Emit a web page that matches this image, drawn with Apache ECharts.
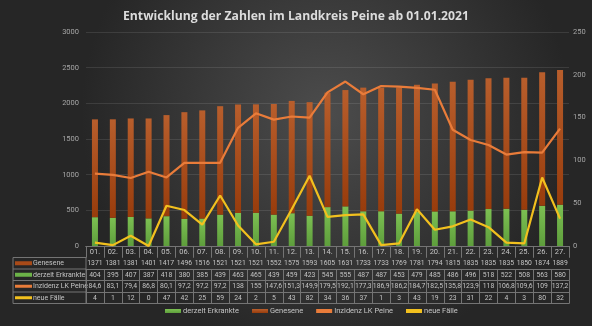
<!DOCTYPE html>
<html><head><meta charset="utf-8">
<script src="https://cdn.jsdelivr.net/npm/echarts@6/dist/echarts.min.js"></script>
<style>html,body{margin:0;padding:0;}#c{width:592px;height:326px;}</style>
</head><body><div id="c"></div>
<script>
const categories = ['01.','02.','03.','04.','05.','06.','07.','08.','09.','10.','11.','12.','13.','14.','15.','16.','17.','18.','19.','20.','21.','22.','23.','24.','25.','26.','27.'];
const genesene = [1371,1381,1381,1401,1417,1496,1516,1521,1521,1521,1552,1575,1593,1605,1631,1733,1733,1769,1781,1794,1815,1835,1835,1835,1850,1874,1889];
const erkrankte = [404,395,407,387,418,380,385,439,463,465,439,459,423,545,555,487,487,453,479,485,486,496,518,522,508,563,580];
const inzidenz = [84.6,83.1,79.4,86.8,80.1,97.2,97.2,97.2,138,155,147.6,151.3,149.9,179.5,192.1,177.3,186.9,186.2,184.7,182.5,135.8,123.9,118,106.8,109.6,109,137.2];
const neueFaelle = [4,1,12,0,47,42,25,59,24,2,5,43,82,34,36,37,1,3,43,19,23,31,22,4,3,80,32];
const leftTicks = [0,500,1000,1500,2000,2500,3000];
const rightTicks = [0,50,100,150,200,250];

const names = ['Genesene','derzeit Erkrankte','Inzidenz LK Peine','neue Fälle'];
const fmt = v => String(v).replace('.', ',');
const rows = [genesene, erkrankte, inzidenz, neueFaelle];

const txtColor = '#c4c4c4';
const lineCol = '#747474';
const font = 'Open Sans, Liberation Sans, sans-serif';
const nfont = 'Roboto, "Liberation Sans", sans-serif';
const cGreen = {type:'linear',x:0,y:0,x2:0,y2:1,colorStops:[{offset:0,color:'#7cc052'},{offset:1,color:'#5e9e3c'}]};
const cBrown = {type:'linear',x:0,y:0,x2:0,y2:1,colorStops:[{offset:0,color:'#b85e2c'},{offset:1,color:'#983c0c'}]};
const cOrange = '#e97c3a';
const cYellow = '#f2c01e';

const gridTop = 32, gridBottomY = 246, rowH = 11.5;
const xAxes = [{
  type:'category', data:categories, gridIndex:0, position:'bottom', offset:0,
  axisLine:{show:true,lineStyle:{color:lineCol,width:1}},
  axisTick:{show:true,alignWithLabel:false,interval:0,length:rowH,lineStyle:{color:lineCol}},
  axisLabel:{interval:0,color:txtColor,fontSize:7.5,fontFamily:nfont,margin:2.5},
  splitLine:{show:false}
}];
rows.forEach((arr,i)=>{
  xAxes.push({
    type:'category', data:categories, gridIndex:0, position:'bottom', offset:rowH*(i+1),
    axisLine:{show:true,lineStyle:{color:lineCol,width:1}},
    axisTick:{show:true,alignWithLabel:false,interval:0,length:rowH,lineStyle:{color:lineCol}},
    axisLabel:{interval:0,color:txtColor,fontSize:6.8,fontFamily:nfont,margin:2.5,formatter:(v,idx)=>fmt(arr[idx])},
    splitLine:{show:false}
  });
});
xAxes.push({
  type:'category', data:categories, gridIndex:0, position:'bottom', offset:rowH*5,
  axisLine:{show:true,lineStyle:{color:lineCol,width:1}},
  axisTick:{show:false}, axisLabel:{show:false}, splitLine:{show:false}
});

const tblLeft = 13, tblRight = 86, tblTop = gridBottomY + rowH;
const graphics = [{
  type:'rect', shape:{x:tblLeft,y:tblTop,width:tblRight-tblLeft,height:rowH*4},
  style:{fill:'none',stroke:lineCol,lineWidth:1}
}];
const keyStyles = [
  {fill:'#a84a18',h:4},{fill:'#6cb248',h:4},{fill:cOrange,h:3},{fill:cYellow,h:3}
];
names.forEach((n,i)=>{
  const yTop = tblTop + rowH*i;
  if(i>0) graphics.push({type:'line',shape:{x1:tblLeft,y1:yTop,x2:tblRight,y2:yTop},style:{stroke:lineCol,lineWidth:1}});
  graphics.push({type:'rect',shape:{x:15,y:yTop+rowH/2-keyStyles[i].h/2,width:17,height:keyStyles[i].h},style:{fill:keyStyles[i].fill}});
  graphics.push({type:'text',x:33,y:yTop+rowH/2,style:{text:n,fill:txtColor,fontSize:7,fontFamily:nfont,verticalAlign:'middle'}});
});

const chart = echarts.init(document.getElementById('c'));
chart.setOption({
  backgroundColor:{type:'radial',x:0.55,y:0.35,r:0.75,colorStops:[{offset:0,color:'#4c4c4c'},{offset:1,color:'#262626'}]},
  animation:false,
  title:{text:'Entwicklung der Zahlen im Landkreis Peine ab 01.01.2021',left:'center',top:6,
    textStyle:{color:'#dcdcdc',fontSize:12.2,fontWeight:'bold',fontFamily:font}},
  grid:{left:86,right:23,top:gridTop,bottom:326-gridBottomY,outerBoundsMode:'none'},
  legend:{bottom:6,left:160,itemWidth:16,itemHeight:4,itemGap:13,
    textStyle:{color:txtColor,fontSize:7.5,fontFamily:nfont,padding:[0,0,0,-3]},
    data:[
      {name:'derzeit Erkrankte',icon:'rect'},
      {name:'Genesene',icon:'rect'},
      {name:'Inzidenz LK Peine',icon:'rect'},
      {name:'neue Fälle',icon:'rect'}
    ]},
  xAxis:xAxes,
  yAxis:[
    {type:'value',min:leftTicks[0],max:leftTicks[leftTicks.length-1],interval:leftTicks[1]-leftTicks[0],
     axisLine:{show:false},axisTick:{show:false},
     axisLabel:{color:'#a6a6a6',fontSize:7.5,fontFamily:nfont,margin:7,formatter:v=>String(v)},
     splitLine:{lineStyle:{color:'rgba(255,255,255,0.1)',width:1}}},
    {type:'value',min:rightTicks[0],max:rightTicks[rightTicks.length-1],interval:rightTicks[1]-rightTicks[0],
     position:'right',axisLine:{show:false},axisTick:{show:false},
     axisLabel:{color:'#a6a6a6',fontSize:7.5,fontFamily:nfont,margin:4,formatter:v=>String(v)},
     splitLine:{show:false}}
  ],
  graphic:graphics,
  series:[
    {name:'derzeit Erkrankte',type:'bar',stack:'a',data:erkrankte,barWidth:6,itemStyle:{color:cGreen},xAxisIndex:0,yAxisIndex:0},
    {name:'Genesene',type:'bar',stack:'a',data:genesene,barWidth:6,itemStyle:{color:cBrown},xAxisIndex:0,yAxisIndex:0},
    {name:'Inzidenz LK Peine',type:'line',data:inzidenz,yAxisIndex:1,xAxisIndex:0,showSymbol:false,symbol:'none',
     lineStyle:{color:cOrange,width:2.2},itemStyle:{color:cOrange}},
    {name:'neue Fälle',type:'line',data:neueFaelle,yAxisIndex:1,xAxisIndex:0,showSymbol:false,symbol:'none',
     lineStyle:{color:cYellow,width:2.2},itemStyle:{color:cYellow}}
  ]
});
</script></body></html>
